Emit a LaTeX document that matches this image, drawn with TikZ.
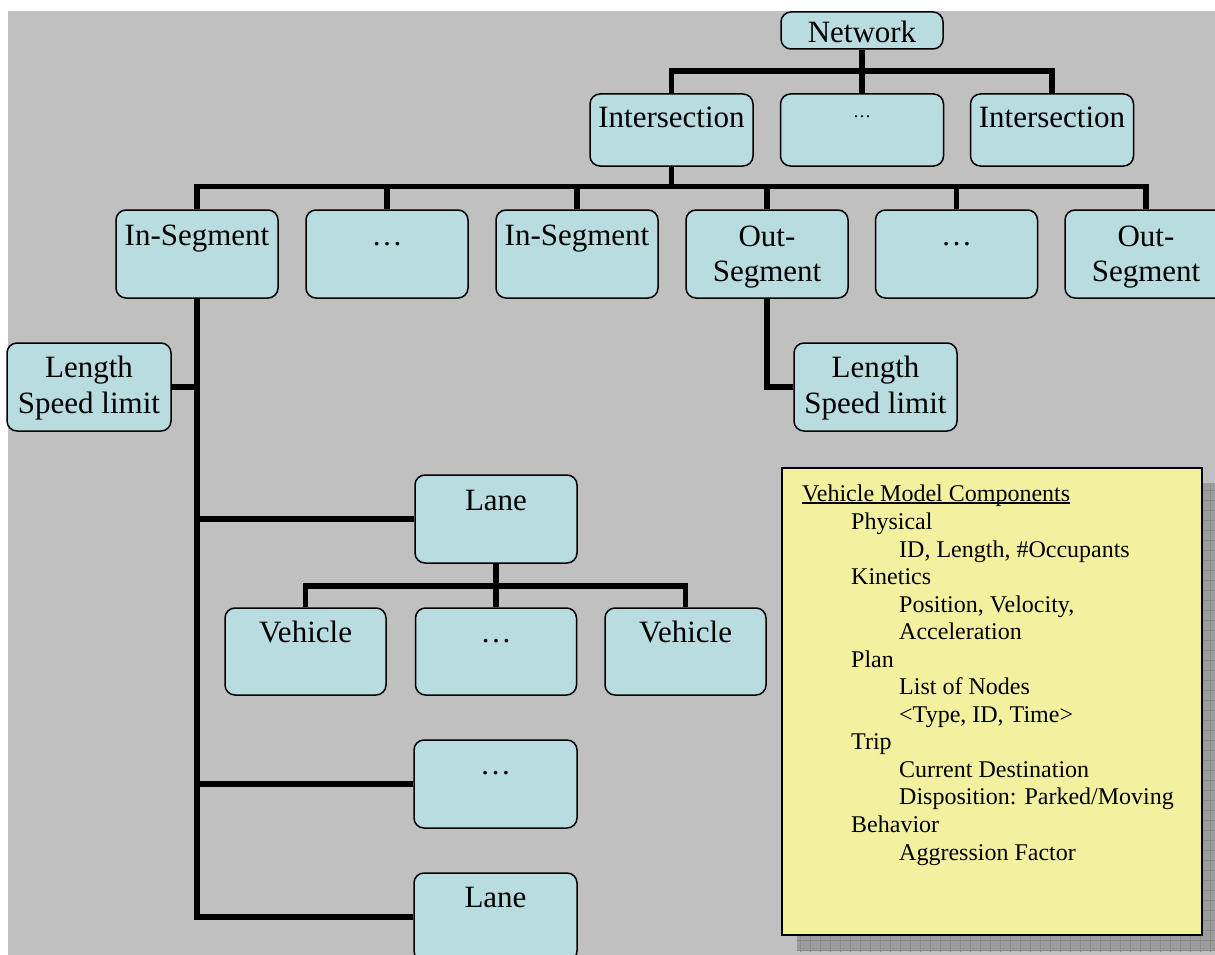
\documentclass[tikz,border=0pt]{standalone}
\usepackage{fontspec}
\setmainfont{Liberation Serif}
\definecolor{bgc}{RGB}{192,192,192}
\definecolor{boxc}{RGB}{184,220,224}
\definecolor{yelc}{RGB}{243,241,160}
\definecolor{shadc}{RGB}{156,156,156}
\definecolor{gridc}{RGB}{138,138,138}
\begin{document}
\begin{tikzpicture}[x=1pt,y=-1pt,
  box/.style={draw=black, line width=1.5pt, fill=boxc, rounded corners=10pt,
    inner sep=0pt, minimum width=162pt, minimum height=88pt},
  conn/.style={line width=5.5pt, line join=miter, draw=black},
  txt/.style={inner sep=0pt, anchor=base, font=\fontsize{31}{35}\selectfont},
  smalltxt/.style={inner sep=0pt, anchor=base, font=\fontsize{18}{22}\selectfont},
  ytxt/.style={inner sep=0pt, anchor=base west, font=\fontsize{24}{28}\selectfont}]
\useasboundingbox (0,0) rectangle (1215,955);
\clip (0,0) rectangle (1215,955);
\fill[bgc] (8,11) rectangle (1215,955);

% ---------- shadow and yellow legend box ----------
\fill[shadc] (797,483) rectangle (1217,951);
\begin{scope}
  \clip (797,483) rectangle (1217,951);
  \draw[gridc, line width=0.8pt, xstep=10pt, ystep=10pt] (790,480) grid (1220,960);
\end{scope}
\node[draw=black, line width=2.5pt, fill=yelc, inner sep=0pt,
      minimum width=420pt, minimum height=467pt] (legend) at (992,701.5) {};

% ---------- boxes ----------
\node[box, minimum height=37pt] (net) at (862,30.5) {};
\node[box, minimum width=163pt, minimum height=72pt] (int1) at (671.5,130) {};
\node[box, minimum width=163pt, minimum height=72pt] (int2) at (862,130) {};
\node[box, minimum width=163pt, minimum height=72pt] (int3) at (1052,130) {};

\node[box] (seg1) at (197,254) {};
\node[box] (seg2) at (387,254) {};
\node[box] (seg3) at (577,254) {};
\node[box] (seg4) at (767,254) {};
\node[box] (seg5) at (956.5,254) {};
\node[box] (seg6) at (1146,254) {};

\node[box, minimum width=164pt] (lenL) at (89,387) {};
\node[box, minimum width=163pt] (lenR) at (875.5,387) {};

\node[box] (lane1) at (496,519) {};
\node[box, minimum width=161pt, minimum height=87pt] (veh1) at (305.5,651.5) {};
\node[box, minimum width=161pt, minimum height=87pt] (veh2) at (496,651.5) {};
\node[box, minimum width=161pt, minimum height=87pt] (veh3) at (685.5,651.5) {};
\node[box, minimum width=163pt] (laned) at (495.5,784) {};
\node[box, minimum width=163pt] (lane2) at (495.5,917) {};

% ---------- connectors ----------
\coordinate (bar1) at (0,71);
\coordinate (bar2) at (0,186.5);
\coordinate (bar3) at (0,586);

\draw[conn] (net.south) -- (int2.north);
\draw[conn] (int1.north) -- (int1.north |- bar1) -- (int3.north |- bar1) -- (int3.north);

\draw[conn] (int1.south) -- (int1.south |- bar2);
\draw[conn] (seg1.north) -- (seg1.north |- bar2) -- (seg6.north |- bar2) -- (seg6.north);
\draw[conn] (seg2.north) -- (seg2.north |- bar2);
\draw[conn] (seg3.north) -- (seg3.north |- bar2);
\draw[conn] (seg4.north) -- (seg4.north |- bar2);
\draw[conn] (seg5.north) -- (seg5.north |- bar2);

\draw[conn] (seg1.south) -- (seg1.south |- lane2.west) -- (lane2.west);
\draw[conn] (lenL.east) -- (lenL.east -| seg1.south);
\draw[conn] (lane1.west) -- (lane1.west -| seg1.south);
\draw[conn] (laned.west) -- (laned.west -| seg1.south);

\draw[conn] (seg4.south) |- (lenR.west);

\draw[conn] (lane1.south) -- (veh2.north);
\draw[conn] (veh1.north) -- (veh1.north |- bar3) -- (veh3.north |- bar3) -- (veh3.north);

% ---------- box texts ----------
\node[txt] (net-t) at (862,43) {Network};
\node[txt] (int1-t) at (671.5,128) {Intersection};
\node[smalltxt] (int2-t) at (862,118) {…};
\node[txt] (int3-t) at (1052,128) {Intersection};

\node[txt] (seg1-t) at (197,245) {In-Segment};
\node[txt] (seg2-t) at (387,245) {…};
\node[txt] (seg3-t) at (577,245) {In-Segment};
\node[txt] (seg4-ta) at (767,246) {Out-};
\node[txt] (seg4-tb) at (767,281) {Segment};
\node[txt] (seg5-t) at (956.5,245) {…};
\node[txt] (seg6-ta) at (1146,246) {Out-};
\node[txt] (seg6-tb) at (1146,281) {Segment};

\node[txt] (lenL-ta) at (89,377) {Length};
\node[txt] (lenL-tb) at (89,413) {Speed limit};
\node[txt] (lenR-ta) at (875.5,377) {Length};
\node[txt] (lenR-tb) at (875.5,413) {Speed limit};

\node[txt] (lane1-t) at (496,510) {Lane};
\node[txt] (veh1-t) at (305.5,642) {Vehicle};
\node[txt] (veh2-t) at (496,642) {…};
\node[txt] (veh3-t) at (685.5,642) {Vehicle};
\node[txt] (laned-t) at (495.5,774) {…};
\node[txt] (lane2-t) at (495.5,907) {Lane};

% ---------- legend text ----------
\node[ytxt] (lg0) at (802,501) {Vehicle Model Components};
\draw[line width=1.3pt] ([yshift=-2pt]lg0.base west) -- ([yshift=-2pt]lg0.base east);
\node[ytxt] (lg1) at (851,529) {Physical};
\node[ytxt] (lg2) at (899,557) {ID, Length, \#Occupants};
\node[ytxt] (lg3) at (851,584) {Kinetics};
\node[ytxt] (lg4) at (899,612) {Position, Velocity,};
\node[ytxt] (lg5) at (899,639) {Acceleration};
\node[ytxt] (lg6) at (851,667) {Plan};
\node[ytxt] (lg7) at (899,694) {List of Nodes};
\node[ytxt] (lg8) at (899,722) {<Type, ID, Time>};
\node[ytxt] (lg9) at (851,749) {Trip};
\node[ytxt] (lg10) at (899,777) {Current Destination};
\node[ytxt] (lg11) at (899,804) {Disposition: Parked/Moving};
\node[ytxt] (lg12) at (851,832) {Behavior};
\node[ytxt] (lg13) at (899,860) {Aggression Factor};
\end{tikzpicture}
\end{document}
